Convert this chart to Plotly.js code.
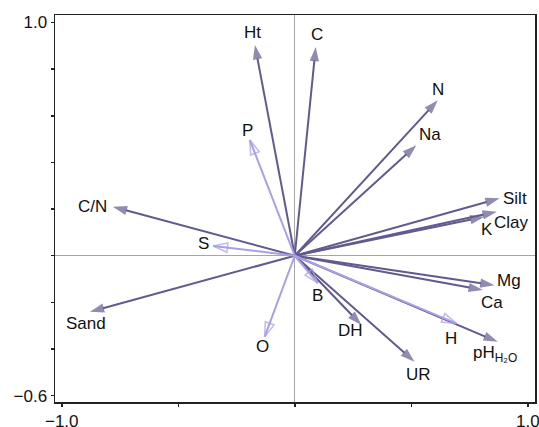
<!DOCTYPE html>
<html><head><meta charset="utf-8">
<script src="https://cdn.plot.ly/plotly-3.0.1.min.js"></script>
<style>html,body{margin:0;padding:0;background:#fff}#chart{width:539px;height:427px}</style>
</head><body><div id="chart"></div>
<script>
// Biplot variable loadings (axis 1, axis 2)
const variables = ['Ht','C','N','Na','Silt','Clay','K','Mg','Ca','pH','UR','DH','Sand','C/N','H','B','O','S','P'];
const axis1 = [-0.171, 0.090, 0.614, 0.522, 0.879, 0.867, 0.814, 0.857, 0.807, 0.871, 0.514, 0.286, -0.879, -0.781, 0.693, 0.099, -0.129, -0.350, -0.193];
const axis2 = [0.903, 0.895, 0.667, 0.474, 0.246, 0.189, 0.167, -0.126, -0.147, -0.369, -0.454, -0.297, -0.240, 0.210, -0.290, -0.117, -0.347, 0.042, 0.496];
const openArrowVars = ['H','B','O','S','P'];

const xTickVals = [-1, -0.5, 0, 0.5, 1];
const xTickText = ['\u22121.0', '', '', '', '1.0'];
const yTickVals = [-0.6, -0.4, -0.2, 0, 0.2, 0.4, 0.6, 0.8, 1.0];
const yTickText = ['\u22120.6', '', '', '', '', '', '', '', '1.0'];

// label display and placement (pixel shifts from arrow tip)
const labelText = {pH: 'pH<sub>H\u2082O</sub>'};
const labelShift = {
  Ht:[-2,13], C:[1,12], N:[0,11], Na:[14,11], Silt:[15,0], Clay:[15,-11], K:[3,-13],
  Mg:[15,5], Ca:[9,-12], H:[-5,-15], pH:[-3,-12], UR:[4,-13], DH:[-11,-5], B:[0,-12],
  O:[-2,-10], Sand:[-4,-12], 'C/N':[-20,0], S:[-10,2], P:[-2,10]
};
const darkColor = '#625a8f';
const lightColor = '#a99fe4';
const font = 'Liberation Sans, Arial, sans-serif';

const traces = variables.map((v, i) => {
  const open = openArrowVars.includes(v);
  const col = open ? lightColor : darkColor;
  return {
    type: 'scatter', mode: 'lines+markers', x: [0, axis1[i]], y: [0, axis2[i]],
    hoverinfo: 'skip', showlegend: false,
    line: {color: col, width: 2},
    marker: {symbol: open ? 'arrow-open' : 'arrow', size: [0, 15], angleref: 'previous',
             color: col, line: {width: open ? 1.6 : 0, color: col}}
  };
});

const annotations = variables.map((v, i) => ({
  x: axis1[i], y: axis2[i], xref: 'x', yref: 'y', showarrow: false,
  text: labelText[v] || v, xshift: labelShift[v][0], yshift: labelShift[v][1],
  font: {family: font, size: 17, color: '#111'}
}));

const layout = {
  width: 539, height: 427,
  margin: {l: 55, r: 4, t: 15, b: 25},
  paper_bgcolor: '#fff', plot_bgcolor: '#fff',
  showlegend: false,
  xaxis: {range: [-1.029, 1.031], tickmode: 'array', tickvals: xTickVals, ticktext: xTickText,
          ticks: 'outside', ticklen: 3, tickwidth: 1.5, tickcolor: '#222',
          ticklabeloverflow: 'allow',
          showline: true, linecolor: '#222', linewidth: 1.5, mirror: true,
          showgrid: false, zeroline: true, zerolinecolor: '#a6a6a6', zerolinewidth: 1,
          tickfont: {family: font, size: 17, color: '#111'}},
  yaxis: {range: [-0.627, 1.032], tickmode: 'array', tickvals: yTickVals, ticktext: yTickText,
          ticks: 'outside', ticklen: 3, tickwidth: 1.5, tickcolor: '#222',
          showline: true, linecolor: '#222', linewidth: 1.5, mirror: true,
          showgrid: false, zeroline: true, zerolinecolor: '#a6a6a6', zerolinewidth: 1,
          tickfont: {family: font, size: 17, color: '#111'}},
  annotations: annotations
};

Plotly.newPlot('chart', traces, layout, {displayModeBar: false, staticPlot: true});
</script></body></html>
